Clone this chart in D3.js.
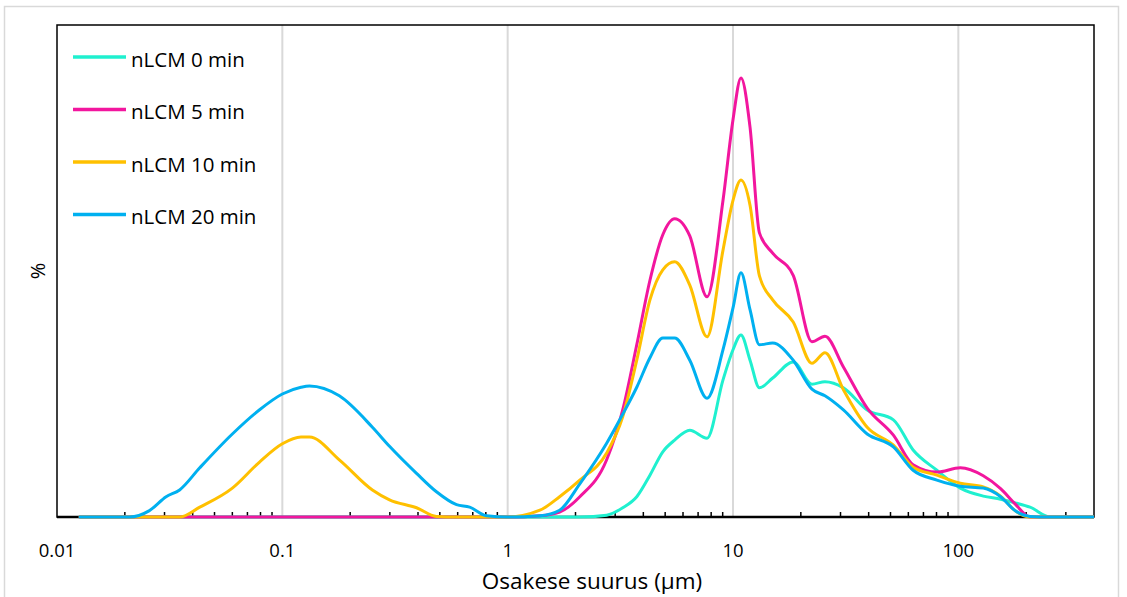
<!DOCTYPE html>
<meta charset="utf-8">
<style>
    html,
    body {
        margin: 0;
        padding: 0;
        background: #fff;
    }

    text {
        font-family: "Open Sans", Lato, sans-serif;
        fill: #000;
    }

    .grid line {
        stroke: #d9d9d9;
        stroke-width: 2px;
    }

    .series path {
        fill: none;
        stroke-width: 3px;
    }
</style>
<svg id="canvas" width="1127" height="597"></svg>
<script src="https://d3js.org/d3.v7.min.js"></script>
<script>
    // particle size classes (um)
    var sizes = [0.0125, 0.0154, 0.021, 0.0256, 0.0305, 0.035, 0.043, 0.06, 0.079, 0.1,
        0.121, 0.132, 0.179, 0.251, 0.299, 0.394, 0.483, 0.593, 0.678, 0.806,
        1, 1.39, 1.7, 2.09, 2.75, 3.24, 3.74, 4.28, 4.88, 5.51,
        6.43, 7.67, 9.03, 10, 10.85, 11.9, 13.1, 15, 18.5, 22.4,
        25.6, 30.9, 39.4, 51.5, 63, 80.3, 102, 129, 154, 179,
        208, 256, 400];

    // volume % per class, one array per series
    var min0 = [0, 0, 0, 0, 0, 0, 0, 0, 0, 0,
        0, 0, 0, 0, 0, 0, 0, 0, 0, 0,
        0, 0, 0, 0, 0.03, 0.15, 0.33, 0.68, 1.06, 1.25,
        1.41, 1.28, 2.23, 2.72, 2.96, 2.55, 2.10, 2.26, 2.52, 2.16,
        2.20, 2.10, 1.74, 1.58, 1.09, 0.76, 0.47, 0.34, 0.29, 0.23,
        0.16, 0, 0];
    var min5 = [0, 0, 0, 0, 0, 0, 0, 0, 0, 0,
        0, 0, 0, 0, 0, 0, 0, 0, 0, 0,
        0, 0.02, 0.08, 0.33, 0.93, 1.74, 2.80, 3.85, 4.59, 4.85,
        4.57, 3.58, 5.15, 6.46, 7.14, 6.34, 4.62, 4.29, 3.93, 2.85,
        2.94, 2.44, 1.77, 1.33, 0.85, 0.73, 0.80, 0.67, 0.46, 0.21,
        0, 0, 0];
    var min10 = [0, 0, 0, 0, 0, 0, 0.16, 0.47, 0.89, 1.19,
        1.30, 1.30, 0.93, 0.44, 0.28, 0.15, 0.01, 0, 0, 0,
        0, 0.11, 0.33, 0.60, 1.04, 1.63, 2.55, 3.53, 4.02, 4.15,
        3.77, 2.93, 4.34, 5.15, 5.48, 5.07, 3.92, 3.53, 3.17, 2.50,
        2.67, 2.07, 1.46, 1.17, 0.81, 0.68, 0.55, 0.49, 0.34, 0.10,
        0, 0, 0];
    var min20 = [0, 0, 0, 0.10, 0.33, 0.44, 0.80, 1.35, 1.74, 2.00,
        2.11, 2.13, 1.97, 1.46, 1.15, 0.71, 0.41, 0.20, 0.16, 0.02,
        0, 0.02, 0.11, 0.54, 1.20, 1.67, 2.11, 2.59, 2.91, 2.91,
        2.55, 1.93, 2.72, 3.40, 3.97, 3.37, 2.80, 2.83, 2.55, 2.08,
        1.97, 1.74, 1.35, 1.14, 0.76, 0.60, 0.50, 0.47, 0.33, 0.10,
        0.01, 0, 0];

    var seriesNames = ["nLCM 0 min", "nLCM 5 min", "nLCM 10 min", "nLCM 20 min"];
    var seriesColors = ["#1ff0cf", "#f2169e", "#ffc000", "#00b0f0"];
    var tickLabels = ["0.01", "0.1", "1", "10", "100"];

    var svg = d3.select("svg"),
        width = +svg.attr("width"),
        height = +svg.attr("height");

    var plot = { left: 57, top: 25, right: 1094, bottom: 517 };

    var x = d3.scaleLog().domain([0.01, 400]).range([plot.left, plot.right]);
    var y = d3.scaleLinear().domain([0, 8]).range([plot.bottom, plot.top]);

    // outer chart frame
    svg.append("rect")
        .attr("x", 4.5).attr("y", 6.5)
        .attr("width", 1114).attr("height", 600)
        .attr("fill", "#fff")
        .attr("stroke", "#d9d9d9")
        .attr("stroke-width", 1.5);

    // vertical gridlines at decades
    svg.append("g")
        .attr("class", "grid")
        .selectAll("line")
        .data([0.1, 1, 10, 100])
        .enter().append("line")
        .attr("x1", function(d) { return x(d); })
        .attr("x2", function(d) { return x(d); })
        .attr("y1", plot.top)
        .attr("y2", plot.bottom);

    // plot frame (axis lines), under the curves
    svg.append("rect")
        .attr("x", plot.left).attr("y", plot.top)
        .attr("width", plot.right - plot.left)
        .attr("height", plot.bottom - plot.top)
        .attr("fill", "none")
        .attr("stroke", "#000")
        .attr("stroke-width", 1.5);
    svg.append("line")
        .attr("x1", plot.left).attr("x2", plot.right)
        .attr("y1", plot.bottom).attr("y2", plot.bottom)
        .attr("stroke", "#000").attr("stroke-width", 2.5);

    // minor ticks pointing into the plot
    var minor = [];
    [0.01, 0.1, 1, 10, 100].forEach(function(dec) {
        for (var k = 2; k <= 9; k++) {
            if (dec * k < 400) minor.push(dec * k);
        }
    });
    svg.append("g")
        .selectAll("line")
        .data(minor)
        .enter().append("line")
        .attr("x1", function(d) { return x(d); })
        .attr("x2", function(d) { return x(d); })
        .attr("y1", plot.bottom)
        .attr("y2", plot.bottom - 5)
        .attr("stroke", "#000")
        .attr("stroke-width", 1.5);

    // the curves
    var line = d3.line()
        .x(function(d) { return x(d[0]); })
        .y(function(d) { return y(d[1]); })
        .curve(d3.curveMonotoneX);

    var allSeries = [min0, min5, min10, min20];

    svg.append("g")
        .attr("class", "series")
        .selectAll("path")
        .data(allSeries)
        .enter().append("path")
        .attr("stroke", function(d, i) { return seriesColors[i]; })
        .attr("d", function(vals) {
            return line(sizes.map(function(s, j) { return [s, vals[j]]; }));
        });

    // tick labels
    svg.append("g")
        .selectAll("text")
        .data(tickLabels)
        .enter().append("text")
        .attr("x", function(d) { return x(+d); })
        .attr("y", 556.5)
        .attr("text-anchor", "middle")
        .style("font-size", "18.5px")
        .text(function(d) { return d; });

    // axis titles
    svg.append("text")
        .attr("x", 592).attr("y", 589)
        .attr("text-anchor", "middle")
        .style("font-size", "22.5px")
        .text("Osakese suurus (μm)");

    svg.append("text")
        .attr("transform", "translate(45,271) rotate(-90)")
        .attr("text-anchor", "middle")
        .style("font-size", "20px")
        .text("%");

    // legend
    var legend = svg.append("g")
        .selectAll("g")
        .data(seriesNames)
        .enter().append("g")
        .attr("transform", function(d, i) { return "translate(73," + (57 + i * 52.5) + ")"; });

    legend.append("line")
        .attr("x1", 0).attr("x2", 53)
        .attr("stroke", function(d, i) { return seriesColors[i]; })
        .attr("stroke-width", 3.5);

    legend.append("text")
        .attr("x", 58).attr("y", 9.5)
        .style("font-size", "20.5px")
        .text(function(d) { return d; });
</script>
